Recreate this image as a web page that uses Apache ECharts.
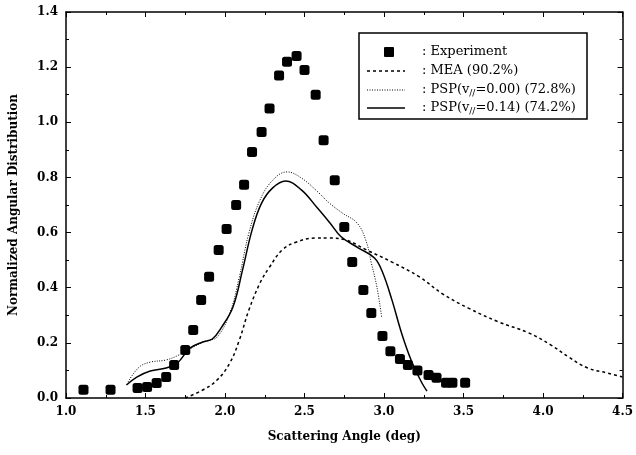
<!DOCTYPE html>
<html>
<head>
<meta charset="utf-8">
<script src="https://cdn.jsdelivr.net/npm/echarts@6/dist/echarts.min.js"></script>
<style>
  html, body { margin: 0; padding: 0; background: #fff; }
  #chart { width: 636px; height: 455px; }
</style>
</head>
<body>
<div id="chart"></div>
<script>
// experiment (squares)
const expX = [1.11, 1.28, 1.45, 1.51, 1.57, 1.63, 1.68, 1.75, 1.80, 1.85, 1.90, 1.96, 2.01, 2.07, 2.12, 2.17, 2.23, 2.28, 2.34, 2.39, 2.45, 2.50, 2.57, 2.62, 2.69, 2.75, 2.80, 2.87, 2.92, 2.99, 3.04, 3.10, 3.15, 3.21, 3.28, 3.33, 3.39, 3.43, 3.51]
const expY = [0.03, 0.03, 0.036, 0.04, 0.054, 0.076, 0.12, 0.174, 0.247, 0.355, 0.44, 0.537, 0.613, 0.70, 0.773, 0.892, 0.965, 1.05, 1.17, 1.22, 1.24, 1.19, 1.10, 0.935, 0.79, 0.62, 0.493, 0.392, 0.308, 0.225, 0.17, 0.141, 0.12, 0.10, 0.083, 0.073, 0.055, 0.055, 0.055]

// MEA (dashed)
const meaX = [1.75, 1.86, 1.95, 2.03, 2.09, 2.15, 2.22, 2.28, 2.36, 2.45, 2.57, 2.65, 2.76, 2.89, 3.05, 3.22, 3.37, 3.53, 3.72, 3.91, 4.05, 4.16, 4.28, 4.41, 4.5]
const meaY = [0.0, 0.029, 0.065, 0.127, 0.21, 0.319, 0.417, 0.475, 0.537, 0.566, 0.58, 0.58, 0.573, 0.537, 0.493, 0.44, 0.377, 0.326, 0.276, 0.236, 0.192, 0.149, 0.109, 0.09, 0.076]

// PSP v//=0.00 (dotted)
const p00X = [1.39, 1.46, 1.53, 1.63, 1.71, 1.80, 1.88, 1.95, 2.03, 2.09, 2.15, 2.22, 2.30, 2.39, 2.48, 2.59, 2.65, 2.74, 2.83, 2.885, 2.92, 2.955, 2.985]
const p00Y = [0.058, 0.112, 0.13, 0.138, 0.156, 0.185, 0.207, 0.221, 0.308, 0.439, 0.598, 0.718, 0.79, 0.82, 0.798, 0.744, 0.71, 0.67, 0.635, 0.573, 0.49, 0.403, 0.294]

// PSP v//=0.14 (solid)
const p14X = [1.38, 1.445, 1.53, 1.63, 1.70, 1.78, 1.86, 1.92, 1.98, 2.05, 2.11, 2.17, 2.23, 2.30, 2.38, 2.48, 2.58, 2.66, 2.73, 2.84, 2.94, 2.99, 3.05, 3.11, 3.17, 3.235, 3.27]
const p14Y = [0.047, 0.076, 0.098, 0.109, 0.127, 0.181, 0.203, 0.214, 0.258, 0.33, 0.464, 0.609, 0.707, 0.762, 0.787, 0.755, 0.69, 0.635, 0.585, 0.544, 0.508, 0.457, 0.355, 0.236, 0.138, 0.058, 0.025]

const legendRows = [
  '{n|: Experiment}',
  '{n|: MEA (90.2%)}',
  '{n|: PSP(v}{s|//}{n|=0.00) (72.8%)}',
  '{n|: PSP(v}{s|//}{n|=0.14) (74.2%)}'
]

const pair = (xs, ys) => xs.map((x, i) => [x, ys[i]])
const serif = '"DejaVu Serif", "Liberation Serif", serif'
const labelStyle = { fontFamily: serif, fontWeight: 'bold', fontSize: 12, color: '#000' }

function axisBase(extra) {
  return Object.assign({
    type: 'value',
    axisLine: { show: true, onZero: false, lineStyle: { color: '#000', width: 1.5 } },
    axisTick: { show: true, inside: true, length: 5, lineStyle: { color: '#000', width: 1 } },
    minorTick: { show: true, splitNumber: 2, length: 3, lineStyle: { color: '#000', width: 1 } },
    splitLine: { show: false }
  }, extra)
}

const chart = echarts.init(document.getElementById('chart'))

const legendGraphics = [
  { type: 'rect', shape: { x: 359, y: 33, width: 228, height: 86 },
    style: { fill: '#fff', stroke: '#000', lineWidth: 1.5 }, z: 100 },
  { type: 'rect', shape: { x: 384, y: 47, width: 10, height: 10, r: 1 }, style: { fill: '#000' }, z: 101 },
  { type: 'line', shape: { x1: 367, y1: 71, x2: 405, y2: 71 },
    style: { stroke: '#000', lineWidth: 1.5, lineDash: [3, 3] }, z: 101 },
  { type: 'line', shape: { x1: 367, y1: 90, x2: 405, y2: 90 },
    style: { stroke: '#000', lineWidth: 1, lineDash: [1, 1.5] }, z: 101 },
  { type: 'line', shape: { x1: 367, y1: 108, x2: 405, y2: 108 },
    style: { stroke: '#000', lineWidth: 1.5 }, z: 101 }
]
legendRows.forEach((t, i) => {
  legendGraphics.push({
    type: 'text', x: 422, y: 52 + i * 18.7, z: 101,
    style: {
      text: t, verticalAlign: 'middle',
      rich: {
        n: { fontFamily: serif, fontSize: 13, fill: '#000' },
        s: { fontFamily: serif, fontSize: 9, fill: '#000', padding: [8, 0, 0, 0] }
      }
    }
  })
})

chart.setOption({
  animation: false,
  backgroundColor: '#fff',
  grid: { left: 66, right: 11, top: 12, bottom: 57 },
  xAxis: [
    axisBase({
      min: 1, max: 4.5, interval: 0.5,
      axisLabel: Object.assign({ margin: 8, formatter: v => v.toFixed(1) }, labelStyle),
      name: 'Scattering Angle (deg)', nameLocation: 'middle', nameGap: 33,
      nameTextStyle: labelStyle
    }),
    axisBase({ position: 'top', min: 1, max: 4.5, interval: 0.5, axisLabel: { show: false } })
  ],
  yAxis: [
    axisBase({
      min: 0, max: 1.4, interval: 0.2,
      axisLabel: Object.assign({ margin: 8, formatter: v => v.toFixed(1) }, labelStyle),
      name: 'Normalized Angular Distribution', nameLocation: 'middle', nameGap: 46,
      nameRotate: 90, nameTextStyle: labelStyle
    }),
    axisBase({ position: 'right', min: 0, max: 1.4, interval: 0.2, axisLabel: { show: false } })
  ],
  series: [
    {
      name: 'Experiment', type: 'scatter', symbol: 'roundRect', symbolSize: 10,
      itemStyle: { color: '#000', opacity: 1 }, data: pair(expX, expY), z: 5
    },
    {
      name: 'MEA', type: 'line', symbol: 'none', smooth: 0.4,
      lineStyle: { color: '#000', width: 1.5, type: [3, 3] }, data: pair(meaX, meaY)
    },
    {
      name: 'PSP 0.00', type: 'line', symbol: 'none', smooth: 0.4,
      lineStyle: { color: '#000', width: 1, type: [1, 1.5] }, data: pair(p00X, p00Y)
    },
    {
      name: 'PSP 0.14', type: 'line', symbol: 'none', smooth: 0.4,
      lineStyle: { color: '#000', width: 1.5 }, data: pair(p14X, p14Y)
    }
  ],
  graphic: legendGraphics
})
</script>
</body>
</html>
